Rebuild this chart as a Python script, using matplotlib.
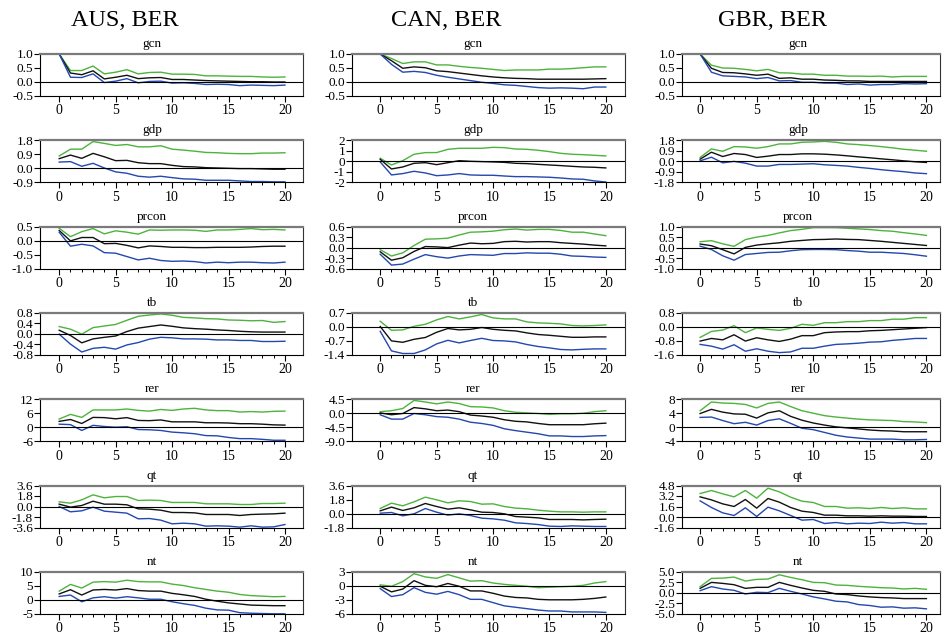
import matplotlib
matplotlib.use('Agg')
import matplotlib.pyplot as plt
import numpy as np
from matplotlib.ticker import FixedLocator

plt.rcParams['font.family'] = ['Liberation Serif', 'DejaVu Serif']
plt.rcParams['axes.unicode_minus'] = True

# horizon 0..20, each panel: [upper (green), median (black), lower (blue)]
horizon = list(range(21))
countries = ['AUS, BER', 'CAN, BER', 'GBR, BER']
variables = ['gcn', 'gdp', 'prcon', 'tb', 'rer', 'qt', 'nt']

# ---- AUS ----
aus_gcn = [
    [1.0, 0.41, 0.41, 0.57, 0.29, 0.35, 0.44, 0.29, 0.34, 0.35, 0.28, 0.28, 0.27, 0.22, 0.22, 0.21, 0.2, 0.2, 0.18, 0.17, 0.18],
    [1.0, 0.32, 0.26, 0.4, 0.11, 0.17, 0.24, 0.12, 0.15, 0.16, 0.09, 0.09, 0.07, 0.05, 0.04, 0.03, 0.02, 0.01, 0.01, 0.0, 0.0],
    [1.0, 0.17, 0.16, 0.29, -0.02, 0.03, 0.12, -0.03, 0.02, 0.03, -0.04, -0.03, -0.05, -0.09, -0.08, -0.09, -0.13, -0.11, -0.12, -0.13, -0.11]]
aus_gdp = [
    [0.79, 1.23, 1.23, 1.72, 1.6, 1.47, 1.53, 1.38, 1.38, 1.45, 1.23, 1.17, 1.1, 1.02, 1.0, 0.96, 0.94, 0.94, 0.98, 0.98, 1.0],
    [0.62, 0.85, 0.64, 0.96, 0.74, 0.49, 0.51, 0.36, 0.3, 0.3, 0.19, 0.11, 0.09, 0.04, 0.02, 0.0, -0.02, -0.02, -0.04, -0.06, -0.06],
    [0.4, 0.43, 0.13, 0.32, 0.02, -0.23, -0.32, -0.51, -0.57, -0.51, -0.6, -0.68, -0.7, -0.77, -0.77, -0.77, -0.81, -0.85, -0.85, -0.87, -0.87]]
aus_prcon = [
    [0.44, 0.14, 0.32, 0.43, 0.24, 0.35, 0.3, 0.23, 0.38, 0.37, 0.38, 0.38, 0.37, 0.33, 0.38, 0.38, 0.4, 0.43, 0.39, 0.4, 0.38],
    [0.36, -0.01, 0.11, 0.11, -0.11, -0.1, -0.17, -0.26, -0.19, -0.21, -0.24, -0.24, -0.25, -0.25, -0.24, -0.24, -0.24, -0.23, -0.21, -0.2, -0.2],
    [0.3, -0.2, -0.13, -0.19, -0.43, -0.45, -0.57, -0.69, -0.63, -0.71, -0.74, -0.73, -0.75, -0.8, -0.77, -0.79, -0.77, -0.77, -0.79, -0.8, -0.77]]
aus_tb = [
    [0.28, 0.18, -0.01, 0.24, 0.3, 0.36, 0.52, 0.67, 0.72, 0.76, 0.71, 0.63, 0.61, 0.58, 0.57, 0.53, 0.52, 0.5, 0.51, 0.44, 0.47],
    [0.14, -0.06, -0.34, -0.19, -0.13, -0.08, 0.09, 0.22, 0.28, 0.34, 0.29, 0.23, 0.2, 0.18, 0.15, 0.13, 0.1, 0.08, 0.07, 0.07, 0.07],
    [-0.01, -0.39, -0.69, -0.55, -0.51, -0.58, -0.42, -0.33, -0.2, -0.13, -0.15, -0.19, -0.19, -0.2, -0.23, -0.23, -0.25, -0.25, -0.29, -0.29, -0.28]]
aus_rer = [
    [3.5, 5.5, 4.2, 7.4, 7.4, 7.4, 7.8, 7.2, 6.9, 7.6, 7.2, 7.8, 8.1, 7.4, 7.1, 7.1, 6.5, 6.7, 6.5, 6.8, 6.9],
    [2.5, 3.3, 1.6, 4.2, 4.1, 3.6, 4.1, 2.9, 2.8, 3.1, 2.3, 2.3, 2.3, 1.9, 1.9, 1.8, 1.5, 1.5, 1.3, 1.0, 0.9],
    [1.3, 1.1, -1.4, 0.8, 0.3, 0.0, 0.2, -1.0, -1.1, -1.4, -2.1, -2.4, -2.8, -3.6, -3.7, -4.4, -4.9, -4.9, -5.2, -5.6, -5.6]]
aus_qt = [
    [0.8, 0.57, 1.14, 2.0, 1.49, 1.71, 1.71, 1.03, 1.09, 1.03, 0.69, 0.69, 0.69, 0.46, 0.46, 0.46, 0.34, 0.34, 0.51, 0.51, 0.57],
    [0.4, -0.11, 0.17, 0.91, 0.4, 0.4, 0.29, -0.4, -0.46, -0.63, -1.03, -1.03, -1.09, -1.37, -1.37, -1.37, -1.54, -1.37, -1.31, -1.26, -1.14],
    [0.0, -0.91, -0.74, -0.11, -0.8, -0.97, -1.14, -2.11, -2.06, -2.34, -2.97, -2.86, -2.97, -3.37, -3.31, -3.37, -3.54, -3.31, -3.54, -3.49, -3.09]]
aus_nt = [
    [3.1, 5.5, 4.2, 6.3, 6.5, 6.3, 7.0, 6.5, 6.4, 6.4, 5.6, 5.1, 4.3, 3.7, 3.1, 2.7, 1.9, 1.5, 1.3, 1.1, 1.2],
    [2.1, 3.6, 1.7, 3.5, 3.7, 3.5, 4.0, 3.3, 3.1, 3.1, 2.3, 1.8, 1.2, 0.2, -0.5, -1.1, -1.5, -1.9, -2.0, -2.1, -2.1],
    [1.2, 1.7, -0.7, 0.7, 1.1, 0.6, 1.1, 0.7, 0.2, 0.2, -0.7, -1.4, -2.0, -3.0, -3.6, -3.7, -4.6, -4.8, -4.9, -5.0, -5.0]]

# ---- CAN ----
can_gcn = [
    [1.0, 0.84, 0.66, 0.72, 0.72, 0.61, 0.61, 0.56, 0.52, 0.49, 0.45, 0.41, 0.43, 0.43, 0.43, 0.46, 0.46, 0.48, 0.51, 0.54, 0.54],
    [1.0, 0.76, 0.49, 0.54, 0.51, 0.4, 0.37, 0.32, 0.27, 0.22, 0.18, 0.15, 0.13, 0.12, 0.1, 0.1, 0.1, 0.1, 0.1, 0.11, 0.12],
    [1.0, 0.63, 0.35, 0.38, 0.34, 0.24, 0.17, 0.11, 0.05, -0.01, -0.05, -0.1, -0.12, -0.16, -0.2, -0.22, -0.21, -0.22, -0.24, -0.18, -0.18]]
can_gdp = [
    [0.29, -0.35, 0.06, 0.67, 0.83, 0.83, 1.14, 1.24, 1.24, 1.24, 1.33, 1.3, 1.17, 1.14, 1.05, 0.92, 0.76, 0.67, 0.63, 0.57, 0.51],
    [0.19, -0.73, -0.54, -0.19, -0.13, -0.32, -0.13, 0.06, 0.0, -0.03, -0.06, -0.1, -0.19, -0.22, -0.29, -0.35, -0.41, -0.48, -0.54, -0.57, -0.63],
    [-0.06, -1.3, -1.17, -0.95, -1.11, -1.37, -1.3, -1.17, -1.3, -1.33, -1.33, -1.4, -1.46, -1.46, -1.49, -1.52, -1.59, -1.68, -1.71, -1.87, -1.97]]
can_prcon = [
    [-0.06, -0.24, -0.15, 0.06, 0.24, 0.25, 0.27, 0.36, 0.44, 0.45, 0.47, 0.51, 0.53, 0.5, 0.52, 0.52, 0.49, 0.44, 0.44, 0.39, 0.34],
    [-0.12, -0.36, -0.29, -0.11, 0.03, 0.02, 0.0, 0.07, 0.13, 0.11, 0.12, 0.17, 0.18, 0.16, 0.17, 0.17, 0.14, 0.12, 0.1, 0.07, 0.05],
    [-0.19, -0.5, -0.47, -0.33, -0.2, -0.26, -0.3, -0.24, -0.2, -0.21, -0.22, -0.17, -0.17, -0.15, -0.16, -0.16, -0.19, -0.24, -0.25, -0.27, -0.28]]
can_tb = [
    [0.28, -0.17, -0.15, 0.03, 0.13, 0.35, 0.52, 0.4, 0.5, 0.62, 0.45, 0.4, 0.4, 0.25, 0.2, 0.18, 0.15, 0.07, 0.05, 0.07, 0.1],
    [0.02, -0.7, -0.77, -0.62, -0.53, -0.27, -0.08, -0.15, -0.12, -0.03, -0.12, -0.17, -0.2, -0.3, -0.38, -0.42, -0.47, -0.52, -0.52, -0.5, -0.5],
    [-0.22, -1.2, -1.33, -1.33, -1.15, -0.85, -0.67, -0.8, -0.68, -0.57, -0.68, -0.7, -0.75, -0.88, -0.98, -1.05, -1.13, -1.15, -1.12, -1.1, -1.1]]
can_rer = [
    [0.5, 0.8, 1.5, 4.1, 3.6, 3.0, 3.6, 3.1, 2.1, 2.0, 1.7, 0.8, 0.3, 0.1, -0.1, -0.4, -0.2, -0.2, 0.0, 0.5, 0.8],
    [0.1, -0.5, -0.1, 1.8, 1.4, 0.8, 1.0, 0.5, -0.6, -0.9, -1.3, -2.1, -2.6, -2.8, -3.3, -3.7, -3.7, -3.7, -3.7, -3.4, -3.2],
    [-0.5, -1.9, -1.9, -0.1, -0.5, -1.1, -1.3, -1.9, -2.9, -3.3, -3.9, -5.0, -5.6, -6.1, -6.6, -7.3, -7.3, -7.5, -7.5, -7.3, -7.2]]
can_qt = [
    [0.64, 1.33, 0.99, 1.5, 2.1, 1.76, 1.37, 1.63, 1.54, 1.2, 1.24, 0.9, 0.69, 0.6, 0.43, 0.3, 0.21, 0.21, 0.17, 0.21, 0.21],
    [0.34, 0.82, 0.39, 0.73, 1.29, 0.9, 0.56, 0.73, 0.47, 0.17, 0.13, -0.04, -0.39, -0.47, -0.56, -0.77, -0.77, -0.77, -0.82, -0.77, -0.73],
    [0.04, 0.13, -0.3, -0.04, 0.64, 0.17, -0.21, -0.04, -0.26, -0.6, -0.69, -0.86, -1.2, -1.29, -1.42, -1.63, -1.67, -1.59, -1.63, -1.67, -1.67]]
can_nt = [
    [0.2, -0.1, 0.9, 2.6, 1.9, 1.6, 2.4, 1.7, 1.0, 1.1, 0.6, 0.3, 0.1, -0.1, -0.4, -0.3, -0.2, -0.1, 0.1, 0.6, 0.9],
    [-0.1, -1.3, -0.7, 1.1, 0.1, -0.2, 0.5, -0.1, -1.1, -1.1, -1.6, -2.2, -2.5, -2.6, -2.9, -3.0, -3.0, -3.0, -2.9, -2.7, -2.4],
    [-0.6, -2.3, -1.9, -0.4, -1.4, -1.8, -1.2, -1.9, -2.9, -2.9, -3.6, -4.3, -4.6, -4.9, -5.2, -5.4, -5.4, -5.6, -5.6, -5.6, -5.7]]

# ---- GBR ----
gbr_gcn = [
    [1.0, 0.6, 0.5, 0.49, 0.45, 0.4, 0.45, 0.33, 0.32, 0.28, 0.28, 0.24, 0.24, 0.21, 0.21, 0.2, 0.21, 0.18, 0.2, 0.2, 0.2],
    [1.0, 0.49, 0.34, 0.33, 0.29, 0.24, 0.28, 0.13, 0.15, 0.1, 0.1, 0.07, 0.06, 0.04, 0.04, 0.02, 0.02, 0.02, 0.02, 0.02, 0.02],
    [1.0, 0.35, 0.22, 0.2, 0.18, 0.12, 0.16, 0.04, 0.05, -0.01, -0.01, -0.04, -0.04, -0.09, -0.07, -0.11, -0.09, -0.09, -0.06, -0.07, -0.06]]
gbr_gdp = [
    [0.33, 1.06, 0.86, 1.26, 1.23, 1.12, 1.26, 1.49, 1.49, 1.63, 1.66, 1.71, 1.63, 1.49, 1.43, 1.35, 1.26, 1.15, 1.03, 0.95, 0.86],
    [0.18, 0.78, 0.41, 0.67, 0.58, 0.33, 0.44, 0.58, 0.58, 0.64, 0.64, 0.61, 0.55, 0.47, 0.38, 0.3, 0.21, 0.13, 0.04, -0.04, -0.1],
    [0.04, 0.35, -0.13, -0.01, -0.16, -0.41, -0.41, -0.27, -0.27, -0.24, -0.21, -0.3, -0.35, -0.41, -0.52, -0.61, -0.72, -0.81, -0.89, -1.0, -1.06]]
gbr_prcon = [
    [0.28, 0.33, 0.18, 0.06, 0.38, 0.5, 0.58, 0.7, 0.81, 0.87, 0.95, 0.95, 0.95, 0.92, 0.89, 0.86, 0.81, 0.78, 0.71, 0.65, 0.58],
    [0.17, 0.09, -0.1, -0.3, 0.01, 0.12, 0.18, 0.23, 0.3, 0.34, 0.38, 0.39, 0.41, 0.39, 0.38, 0.34, 0.3, 0.25, 0.2, 0.15, 0.1],
    [0.07, -0.09, -0.39, -0.6, -0.33, -0.28, -0.23, -0.22, -0.15, -0.1, -0.09, -0.09, -0.1, -0.14, -0.17, -0.22, -0.22, -0.25, -0.28, -0.34, -0.41]]
gbr_tb = [
    [-0.6, -0.26, -0.18, 0.07, -0.33, -0.06, -0.14, -0.2, -0.08, 0.15, 0.09, 0.24, 0.24, 0.3, 0.3, 0.36, 0.36, 0.44, 0.44, 0.53, 0.53],
    [-0.81, -0.66, -0.74, -0.45, -0.81, -0.62, -0.74, -0.83, -0.7, -0.5, -0.5, -0.33, -0.29, -0.27, -0.27, -0.22, -0.2, -0.16, -0.12, -0.08, -0.04],
    [-1.0, -1.1, -1.27, -1.02, -1.39, -1.25, -1.39, -1.47, -1.43, -1.22, -1.22, -1.1, -1.0, -0.97, -0.93, -0.87, -0.85, -0.77, -0.72, -0.66, -0.66]]
gbr_rer = [
    [4.7, 7.2, 6.9, 6.8, 6.5, 5.5, 6.8, 7.2, 5.9, 4.7, 4.0, 3.3, 2.9, 2.6, 2.3, 2.1, 2.0, 1.9, 1.6, 1.5, 1.3],
    [3.9, 5.1, 4.3, 3.8, 3.7, 2.6, 4.1, 4.7, 3.1, 2.0, 1.2, 0.6, 0.1, -0.2, -0.5, -0.8, -1.0, -1.1, -1.3, -1.3, -1.3],
    [2.8, 2.9, 1.9, 1.0, 1.4, 0.6, 1.9, 2.4, 1.1, -0.3, -0.7, -1.5, -2.3, -2.8, -3.1, -3.4, -3.4, -3.4, -3.6, -3.6, -3.5]]
gbr_qt = [
    [3.58, 4.04, 3.53, 3.07, 4.04, 2.87, 4.39, 3.83, 3.02, 2.41, 2.21, 1.6, 1.6, 1.35, 1.4, 1.29, 1.45, 1.29, 1.4, 1.24, 1.24],
    [3.07, 2.61, 2.0, 1.6, 2.67, 1.35, 2.82, 2.26, 1.45, 0.89, 0.69, 0.28, 0.28, 0.18, 0.18, 0.13, 0.18, 0.13, 0.13, 0.08, 0.08],
    [2.46, 1.45, 0.63, 0.23, 1.4, 0.08, 1.5, 0.94, 0.23, -0.48, -0.38, -0.99, -0.84, -1.04, -0.94, -0.99, -0.79, -0.94, -0.84, -1.04, -1.04]]
gbr_nt = [
    [1.46, 3.43, 3.5, 3.74, 2.8, 3.19, 3.27, 4.29, 3.66, 3.11, 2.48, 2.4, 1.85, 1.77, 1.54, 1.38, 1.22, 1.14, 0.91, 1.06, 0.83],
    [1.06, 2.48, 2.24, 1.93, 1.06, 1.3, 1.3, 2.48, 1.77, 1.14, 0.59, 0.35, -0.28, -0.43, -0.75, -0.98, -1.14, -1.22, -1.38, -1.38, -1.38],
    [0.51, 1.46, 0.91, 0.59, -0.28, 0.12, 0.04, 1.06, 0.35, -0.28, -0.98, -1.46, -2.0, -2.17, -2.8, -3.03, -3.43, -3.35, -3.66, -3.58, -3.82]]

# y axis ranges: (low, high, step) per variable row, per country
aus_yaxis = [(-0.5, 1.0, 0.5), (-0.9, 1.8, 0.9), (-1.0, 0.5, 0.5), (-0.8, 0.8, 0.4),
             (-6, 12, 6), (-3.6, 3.6, 1.8), (-5, 10, 5)]
can_yaxis = [(-0.5, 1.0, 0.5), (-2, 2, 1), (-0.6, 0.6, 0.3), (-1.4, 0.7, 0.7),
             (-9.0, 4.5, 4.5), (-1.8, 3.6, 1.8), (-6, 3, 3)]
gbr_yaxis = [(-0.5, 1.0, 0.5), (-1.8, 1.8, 0.9), (-1.0, 1.0, 0.5), (-1.6, 0.8, 0.8),
             (-4, 8, 4), (-1.6, 4.8, 1.6), (-5.0, 5.0, 2.5)]

panels = [[aus_gcn, aus_gdp, aus_prcon, aus_tb, aus_rer, aus_qt, aus_nt],
          [can_gcn, can_gdp, can_prcon, can_tb, can_rer, can_qt, can_nt],
          [gbr_gcn, gbr_gdp, gbr_prcon, gbr_tb, gbr_rer, gbr_qt, gbr_nt]]
yaxes = [aus_yaxis, can_yaxis, gbr_yaxis]

line_colors = ['#4db33d', '#111111', '#2447b0']

# layout in pixels
W, H = 942, 635
col_left = [40, 352, 682]
col_right = [303, 625, 940]
col_xlim = [(-1.7, 21.6), (-2.5, 21.7), (-1.6, 21.2)]
col_head_x = [125, 446, 772]
col_sub_x = [152, 473, 798]
row_top0, row_pitch, ax_h = 54, 86.3, 42

fig = plt.figure(figsize=(W / 100, H / 100), dpi=100)

for c in range(3):
    fig.text(col_head_x[c] / W, 1 - 20 / H, countries[c], ha='center', va='center',
             fontsize=17.5)
    for r in range(7):
        top = row_top0 + r * row_pitch
        ax = fig.add_axes([col_left[c] / W, 1 - (top + ax_h) / H,
                           (col_right[c] - col_left[c]) / W, ax_h / H])
        data = panels[c][r]
        for series, col in zip(data, line_colors):
            ax.plot(horizon, series, color=col, lw=1.0)
        ax.axhline(0, color='black', lw=0.8)
        lo, hi, step = yaxes[c][r]
        ax.set_ylim(lo, hi)
        ticks = np.arange(lo, hi + step / 2, step)
        ax.yaxis.set_major_locator(FixedLocator(ticks))
        if float(step).is_integer():
            ax.set_yticklabels(['%d' % round(t) for t in ticks])
        else:
            ax.set_yticklabels(['%.1f' % t for t in ticks])
        ax.set_xlim(*col_xlim[c])
        ax.xaxis.set_major_locator(FixedLocator([0, 5, 10, 15, 20]))
        ax.xaxis.set_minor_locator(FixedLocator(horizon))
        ax.tick_params(axis='both', which='major', direction='out', length=4,
                       width=0.8, labelsize=10, pad=2)
        ax.tick_params(axis='x', which='minor', direction='out', length=2.5, width=0.7)
        ax.tick_params(axis='y', labelsize=9.5, pad=1)
        ax.spines['top'].set_color('#7a7a7a')
        ax.spines['top'].set_linewidth(1.6)
        ax.spines['right'].set_color('#333333')
        ax.spines['right'].set_linewidth(0.8)
        ax.spines['left'].set_linewidth(0.8)
        ax.spines['bottom'].set_linewidth(0.8)
        fig.text(col_sub_x[c] / W, 1 - (top - 7) / H, variables[r], ha='center',
                 va='baseline', fontsize=9.5)

fig.savefig('out.png', dpi=100)
